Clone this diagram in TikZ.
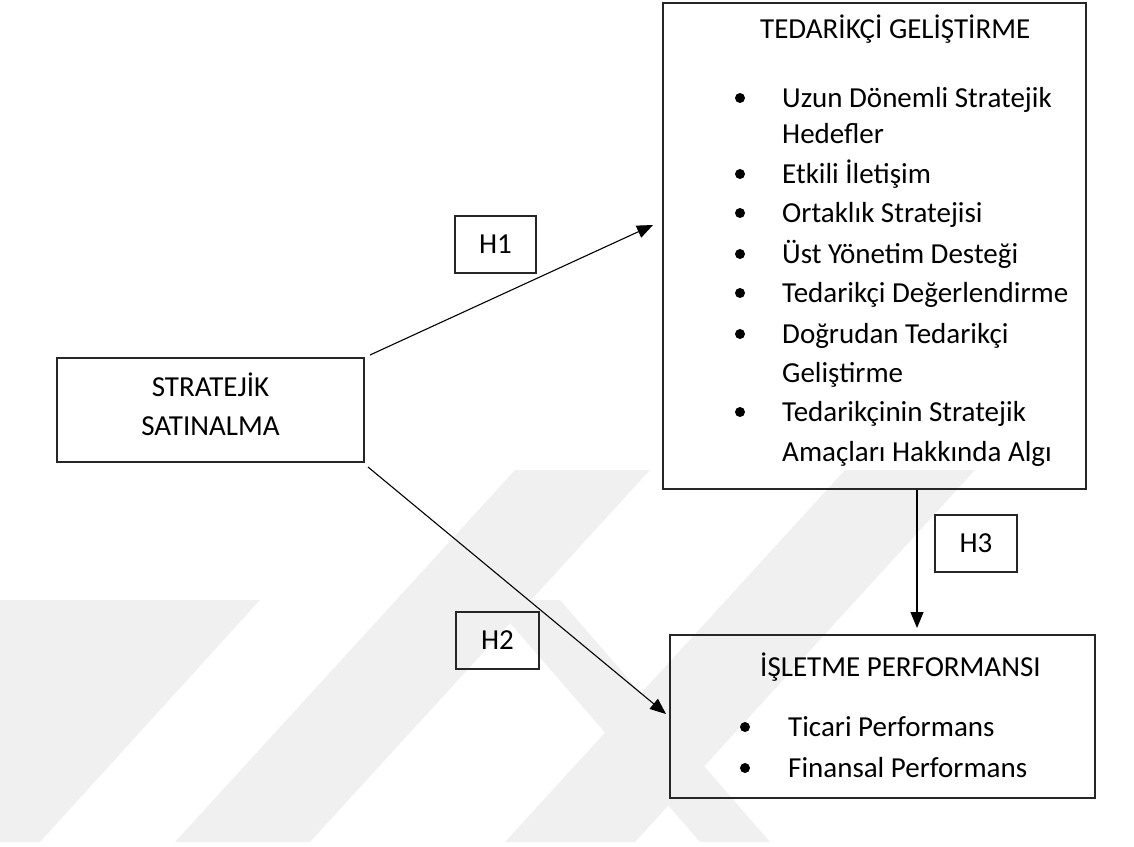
\documentclass[tikz,border=0pt]{standalone}
\usepackage{fontspec}
\setmainfont{Carlito}
\usetikzlibrary{arrows.meta}
\tikzset{
  box/.style={draw=black!85, line width=1.2pt, inner sep=0pt},
  hbox/.style={draw=black!85, line width=1.2pt, inner sep=0pt, minimum height=57pt, font=\fontsize{29}{34}\selectfont},
  txt/.style={inner sep=0pt, font=\fontsize{29}{34}\selectfont},
  bul/.style={circle, fill=black, inner sep=0pt, minimum size=10pt},
  arr/.style={line width=1.1pt, -{Triangle[length=16pt,width=13pt]}},
  wm/.style={fill=black!6, draw=none}
}
\begin{document}
\begin{tikzpicture}[x=1pt,y=-1pt]
\useasboundingbox (0,0) rectangle (1134,846);
% watermark bands
\fill[wm] (175,842) -- (310,842) -- (650,470) -- (515,470) -- cycle;
\fill[wm] (505,842) -- (635,842) -- (975,470) -- (845,470) -- cycle;
\fill[wm] (0,842) -- (40,842) -- (260,600) -- (0,600) -- cycle;
\fill[wm] (700,842) -- (770,842) -- (560,600) -- (490,600) -- cycle;
% boxes
\node[box, minimum width=423pt, minimum height=486pt] (ted) at (874.5,246) {};
\node[box, minimum width=307pt, minimum height=104pt] (strat) at (210.5,410) {};
\node[box, minimum width=425pt, minimum height=163pt] (isl) at (882.5,716.5) {};
\node[hbox, minimum width=81pt] (h1) at (495.5,244.5) {H1};
\node[hbox, minimum width=83pt] (h2) at (497.5,640.5) {H2};
\node[hbox, minimum width=82pt] (h3) at (976,543.5) {H3};
% strategic text
\node[txt, anchor=base] (s1) at (210.5,396) {STRATEJİK};
\node[txt, anchor=base] (s2) at (210.5,435) {SATINALMA};
% tedarikci text
\node[txt, anchor=base west] (t0) at (760,38) {TEDARİKÇİ GELİŞTİRME};
\node[txt, anchor=base west] (t1) at (782,107) {Uzun Dönemli Stratejik};
\node[txt, anchor=base west] (t1b) at (782,143) {Hedefler};
\node[txt, anchor=base west] (t2) at (782,183) {Etkili İletişim};
\node[txt, anchor=base west] (t3) at (782,222) {Ortaklık Stratejisi};
\node[txt, anchor=base west] (t4) at (782,263) {Üst Yönetim Desteği};
\node[txt, anchor=base west] (t5) at (782,302) {Tedarikçi Değerlendirme};
\node[txt, anchor=base west] (t6) at (782,343) {Doğrudan Tedarikçi};
\node[txt, anchor=base west] (t6b) at (782,382) {Geliştirme};
\node[txt, anchor=base west] (t7) at (782,421) {Tedarikçinin Stratejik};
\node[txt, anchor=base west] (t7b) at (782,461) {Amaçları Hakkında Algı};
\foreach \n/\y in {1/98,2/174,3/213,4/254,5/293,6/334,7/412}
  \node[bul] (tb\n) at (740,\y) {};
% isletme text
\node[txt, anchor=base west] (i0) at (760,676) {İŞLETME PERFORMANSI};
\node[txt, anchor=base west] (i1) at (788,736) {Ticari Performans};
\node[txt, anchor=base west] (i2) at (788,777) {Finansal Performans};
\node[bul] (ib1) at (745,727) {};
\node[bul] (ib2) at (745,768) {};
% arrows
\coordinate (a1s) at (370,355);
\coordinate (a1e) at (653,225);
\coordinate (a2s) at (368,467);
\coordinate (a2e) at (666,714);
\coordinate (a3s) at (ted.south -| 917,0);
\coordinate (a3e) at (917,628);
\draw[arr] (a1s) -- (a1e);
\draw[arr] (a2s) -- (a2e);
\draw[arr] (a3s) -- (a3e);
\end{tikzpicture}
\end{document}
